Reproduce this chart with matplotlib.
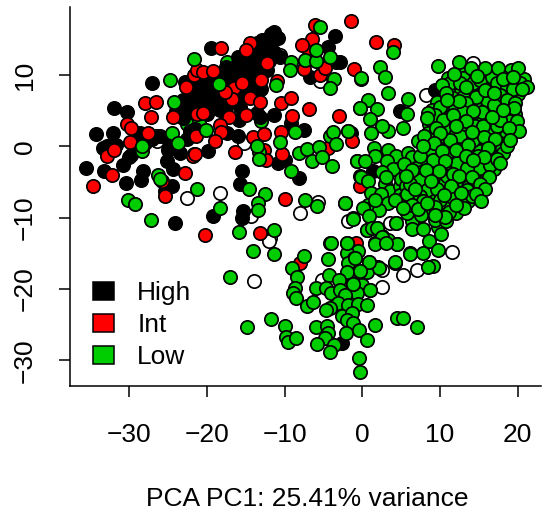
import matplotlib
matplotlib.use("Agg")
import matplotlib.pyplot as plt
from matplotlib.patches import Patch

plt.rcParams['font.family'] = ['Liberation Sans', 'DejaVu Sans']

xlabel_text = "PCA PC1: 25.41% variance"
group_labels = ["High", "Int", "Low"]
xticks = [-30, -20, -10, 0, 10, 20]
yticks = [-30, -20, -10, 0, 10]

unk = [(-26.5,1.5),(-26.4,0.7),(-22.6,-7.2),(-18.3,-6.5),(-8,-9.4),(-5.7,-7.8),(-14.3,-9.8),(-11.9,-12.9),
(-21.7,-1),(-15.2,0.45),(-5.4,9.2),(-10.6,12.8),(-1.8,-10.4),(8.2,7.2),(11.5,-14.75),(5.3,-18),(7,-17.3),
(2.6,-19.7),(2.5,-17.3),(3.6,-10.8),(14.3,11.7),(-13.9,-18.9),(-12,-13.2),(-5.2,-18.7)]

low_under = [(-17.45,11.9),(-16.2,11.35),(-15.9,12.6),(-22.5,3.1),(-21.05,3.4),(-17.6,6.15),(-13,3.5)]

high = [(-35.5,-2.97),(-34.2,1.7),(-33.2,-3.4),(-33.3,-0.25),(-32,5.45),(-30.3,4.8),(-32.1,1.95),(-31.7,0.2),
(-32.9,0),(-30.8,-2.6),(-30.4,-5.1),(-28.5,-4.7),(-28.2,-3.4),(-29.8,-1.2),(-28.6,1.85),(-29,0),(-27.1,8.9),
(-22.8,9.1),(-25,-0.5),(-25.1,-2.1),(-24.3,-3.1),(-24.5,-5.6),(-25.4,-6.3),(-23.5,-0.95),(-19.8,-0.7),
(-22.1,2.1),(-24.1,-10.8),(-19.2,-9.7),(-15.4,-9),(-15.5,-10.1),(-15.5,-3.4),(-15.7,-5.3),(-8.1,-4.4),
(-10.9,-2.3),(-9.9,-1.9),(-7.5,2.3),(-9.2,3.25),(-11.4,4.4),(-15.8,3.7),(-16,1.4),(-17.4,1.85),(-19.5,13.8),
(-11.4,16.1),(-10.8,15.2),(-12.3,14.7),(-13.2,13.5),(-3.5,15.5),(-4.4,14),(-3.4,11.8),(-6.7,9.8),(-10.6,12.6),
(-20.9,7.5),(-21.7,6.5),(-20.5,8.4),(-20,6.1),(-22.6,5.6),(-23.5,5.1),(-19.2,6.5),(-18.3,10.3),(-17.5,11.2),
(-16.6,9.8),(-14.9,11.7),(-14,11.2),(-13.2,12.1),(-12.3,10.7),(-14.4,12.6),(-13.6,8.4),(-18.3,5.1),(-13.6,4.7),
(-13.2,4.2),(-15.7,5.6),(-18.7,8.9),(-21.3,7.9),(-20,9.3),(-21.95,7),(-20.5,5.1),(-20.9,6.5),(-19.6,7.5),
(-17.9,7.9),(-15.3,10.3),(-16.2,11.2),(-12.7,13.1),(-11.9,14),(-13.6,14.5),(-16,9),(-14,9.5),(-13,11),(-18,9),
(-19.5,10),(-21,9),(-17,6.5),(-18,7),(-16,7),(-14.5,7.5),(-23,4),(-24,5),(-12,12),(-12.5,11.5),(-13,13),(-15,13),
(-16,12.5),(-17,10),(-19,8),(-22,8),(-20,4.5),(-19,5.5),(-22.5,1),(-21.5,2.5),(-26,1.5),(-27,1),(-28,0.5),(-30,-1.5),
(9.4,7.9),(4.85,5),(-1.5,1.85),(1.4,-3.5),(-2.65,-27.6),(-2.87,11.9),
(-14,10.2),(-15,10.8),(-15.9,10.3),(-13,10),(-12.8,12.6),(-14,13.5),(-13.9,12.2),(-11.3,13.2),(-12,15.2),(-12.9,15),
(-13,14),(-11.7,15.8),(-18.8,9.8),(-17.8,10.5),(-19.5,9),(-20.6,7),(-21.2,8.6),(-22,6),(-21,5.8),(-19.5,6.9),
(-20.3,7.9),(-18.7,6),(-17.5,5.5),(-16.9,7.5),(-15,7),(-15.5,8),(-14.6,9),(-13,8),(-23,6.5),(-24,4.5),(-22,5),(-25,1)]

intermediate = [(-34.6,-5.6),(-32.9,-1.4),(-32.25,-4),(-32,-0.5),(-30.3,3.15),(-29.7,2.55),(-29.9,0.6),(-27.9,6.05),
(-26.5,6.3),(-27.2,4.1),(-27.6,1.95),(-24.4,4.2),(-25.8,-4.9),(-25.4,-7),(-22.8,-3.7),(-21.8,-1.3),(-21.5,-1.05),
(-21.3,4.6),(-20.5,4.75),(-22.7,8.4),(-21.7,10),(-21.2,10.7),(-20.5,10.5),(-19.2,10.55),(-18.2,13.8),(-16.5,8.25),
(-16.7,6.7),(-17.2,4.1),(-18.3,3),(-18.2,2),(-19,0.7),(-21.4,1.4),(-16.4,-0.8),(-14.1,1.3),(-12.6,1.75),(-12.7,-0.5),
(-12.4,-1.9),(-10.3,-1.05),(-10.5,2),(-9,4.3),(-10.5,6.05),(-9.2,6.75),(-6.9,5.3),(-3,4.3),(-1.1,10.9),(-5.4,10),
(-4.8,11.05),(-7.45,10.85),(-6.9,13.4),(-6.4,15.1),(-7.75,14.2),(-6.1,17.1),(-1.5,17.6),(-11,9.2),(-13,9.3),
(-14.4,6.75),(-13.1,6.3),(-14.9,4.4),(-15.5,8.9),(-14.4,14.5),(-15,13.5),(-12.3,11.7),(-17.6,7.6),(-4.4,-0.25),
(-1.35,0.8),(-20.2,-12.4),(-13.2,-12.1),(-9.9,-7.4),(-0.3,-5.6),(1.76,14.7),(4.1,14.2),(18.9,7.5),(2.3,-8),
(-0.8,-13.6),(-8,-16.4),(-2.4,-23.2)]

low = [(-21.6,12.3),(-24.7,9.3),(-24.2,6.3),(-24.5,1.85),(-23.7,0.55),(-28.4,-0.6),(-28.3,0),
(-20.1,2.3),(-18.4,8.8),(-11.1,8.6),(-8.65,2),
(-10.6,0.65),(-13.3,-0.8),(-13.6,0),(-13.3,-1.8),(-8.1,-0.95),(-7.15,-0.35),(-6.4,-2),(-5.6,-0.1),(-5.2,-1.5),
(-3.85,-2.7),(-4.15,1.5),(-3.8,2),(-3.4,0.3),(-9.2,-3.4),(-0.7,-2.1),(-0.3,-4.2),(-1.8,2.2),(-0.3,5.45),(-0.1,9.5),
(-5.4,16.7),(-9.2,11.8),(-9.3,10.7),(-7.4,12.1),(-5.95,11.95),(-4.2,12.6),(-5.9,13.5),(-3.6,9.5),(-4.2,8.2),
(-26.3,-4.05),(-26,-4.6),(-21.3,-5.9),(-30.2,-7.45),(-29.2,-8.1),(-27.2,-10.3),(-18.3,-8.6),(-12.5,-6.6),(-14.6,-6),
(-13.45,-8),(-13.45,-8.9),(-7.4,-7.55),(-5.8,-8.4),(-2.2,-8),(-1.15,-10.1),(-15.9,-12.05),(-11.3,-11.7),(-4.1,-13.5),
(-14,-14.6),(-11.3,-15.1),(-17,-18.3),(-14.8,-25.3),(-11.7,-24.2),(-9.9,-25.2),(-9.8,-26.7),(-9.6,-27.4),(-8.5,-26.9),
(-7.5,-15.3),(-9,-17.1),(-8.35,-18.25),(-8.7,-19.9),(-8.9,-20.5),(-8.5,-21.3),(-7.15,-22.4),(-6.3,-21.75),(-5.9,-19.8),
(-4.45,-15.8),(-4,-13.5),(-2,-13.6),(-1.35,-14.6),(-0.5,-14.7),(-2,-15),(-1.05,-15.7),(-1.8,-16.4),(0.87,-16.15),
(2.07,-16.85),(-0.3,-17.55),(0.57,-17.55),(-2,-17.55),(-4.3,-18),(-2.95,-18.8),(-4.6,-19.9),(-4.05,-20.5),(-2.9,-20.1),
(-1.15,-19.3),(-0.07,-19.4),(-0.7,-20.5),(1,-20.1),(-2.2,-20.8),(-3.15,-22),(-1.8,-22.2),(-0.5,-22.1),(0.57,-22.3),
(-4.15,-22.7),(-4.6,-22.9),(-2.65,-23.85),(-1.35,-23.4),(-2,-24.3),(-1.15,-24.8),(-6,-25.3),(-4.5,-25.2),(-4.35,-26.2),
(-4.8,-26.9),(-5.8,-27.7),(-3.6,-27.8),(-4.1,-28.8),(-2.15,-26.2),(-0.4,-25.8),(0.6,-27.1),(1.65,-25),(-0.4,-29.7),
(-0.25,-31.7),(4.5,-24),(5.3,-24),(7,-25.35),(4.2,-16.3),(6.2,-15),(4.5,-13.7),(2.5,-12.6),(1.65,-13.6),(3.35,-13.1),
(0.57,-11.7),(1.85,-11.5),(4.4,-10.8),(6.4,-11.5),
(4,13.2),(2.3,11.2),(2.9,9.8),(-0.1,9.6),(3.35,7.55),(5.9,6.65),(0.8,6.5),(-0.3,5.45),(1.85,5.2),(1,3.9),(5.7,4.55),
(5.3,2.55),(3.35,2.1),(2.5,2.8),(1.1,1.95),(-1.8,2.2),(1.5,-0.25),(3.35,-0.5),(1.7,-1.4),(-0.7,-2.1),(0.35,-2.1),
(4.4,-1.4),(5.9,-0.9),(7.2,-1.9),(3.2,-2),(3.9,-3.1),(2.6,-3.6),(-0.2,-4.25),(0.8,-4.9),(2.9,-5.2),(3.6,-6.2),(4.8,-5.6),
(1.1,-6.5),(2.4,-6.7),(4.9,-6.8),(3.35,-7.9),(0.8,-8.2),(0.1,-8.7),(-2.2,-8),(2.1,-8.9),(0.9,-9.75),(-1.25,-10.2),
(4.4,-10.8),(0.55,-11.7),(1.2,-11.5),(1.9,-11.4),(2.5,-12.7),(1.65,-13.7),(4.5,-13.7),(3.1,-13.6),(6.35,-10.45),
(6.35,-11.6),(7.85,-11.6),(9.8,-11.35),(10.1,-12.3),(8.6,-13.25),(9.8,-14.5),(7.85,-15),(6.2,-15.1),(4.2,-16.25),
(2.1,-17),(0.9,-16.15),(-0.3,-17.5),(9.05,-16.7),(8.5,-16.85),(-1.15,-19.3),(1,-20.1),(-2,-13.6),(-0.95,-15.7),
(13,10.3),(15.2,10.4),(16.8,10.5),(18.7,10.2),(19.2,10.7),(12.9,9.6),(16,9.4),(17.8,9.9),(19.2,9),(11,9.6),(20.8,9.5),
(11.5,7.8),(12.7,7.6),(14,7.7),(15.2,8.2),(16.3,8.4),(18,7.9),(19,7.2),(20,7.3),(11.7,6.8),(13,7),(15.3,6.9),(17.2,6.4),
(18,5.7),(19,5.6),(9.6,6.2),(11.2,5.2),(12.6,5.4),(14,5.8),(15,5.8),(16,5.5),(17.5,5),(18.9,4.5),(19.6,4.6),(9,5.1),
(10.1,4.5),(11,3.9),(12.2,3.9),(14.4,3.9),(15.5,3.8),(16.2,3.3),(18.3,3.2),(18.9,3.6),(8.6,3.1),(9.9,3),(11,2.7),
(12.9,2.3),(14.5,2.9),(16.6,2),(17.9,1.9),(18.5,1.4),(7.2,0.7),(8.4,1.9),(9,1.2),(10.7,1.1),(12,1.9),(13.6,1.4),(15,1.9),
(16.4,0.7),(17.7,0.5),(8.2,-0.9),(9.6,-0.1),(10.9,-0.2),(12.8,0.2),(14.9,0.3),(15.2,-0.7),(17,-0.6),(18,-0.2),(6.4,-1.5),
(7.9,-2.2),(9.4,-2.5),(10.9,-1.2),(11.4,-2.4),(13,-1.5),(14.9,-1.4),(16.4,-1.4),(5.4,-2.4),(6.9,-3),(7.5,-3.6),(8.9,-3.1),
(10.6,-3.2),(12.2,-3.2),(14.4,-3),(16,-3.4),(17,-3.2),(5,-4.5),(6.7,-4.3),(9.4,-4.6),(10.6,-5.1),(12.2,-5),(13.1,-5),
(14.7,-4.9),(5.6,-5.5),(7.5,-5.6),(9.6,-6.8),(11.7,-6.2),(13.6,-5.7),(14.7,-5.7),(5.4,-7.2),(6.7,-6.9),(8.8,-7),(12.4,-7.2),
(13.6,-7.7),(6.9,-8.2),(8.5,-8.9),(10,-8.4),(10.8,-8),(12,-9.4),(5.8,-9.3),(7.5,-9.6),(9.3,-10.3),(10.8,-10.5),(3,-4.3),
(4.2,-7.5),(1.7,-7.5),
(11.3,8.9),(12.6,8.9),(14.3,8.9),(15.15,9.3),(16.65,9.8),(17.3,8.9),(18.6,8.4),(20.3,8.9),(19.45,8),(17.7,7.2),(16,6.5),
(14.7,7),(13.4,6.05),(11.9,5.6),(10,5.6),(9.4,4.4),(10.4,3.7),(13,4.9),(15.4,4.9),(16.9,5.8),(18.6,6.5),(15.6,2.8),
(17.3,2.8),(14.3,0.9),(12.6,1.4),(11.3,0.9),(8.7,-0.5),(7.4,-1.4),(9.15,-1.9),(12.15,-2.35),(15.15,-3.05),(16.45,-2.6),
(18.15,-0.95),(18.6,0),(10.85,-4.2),(11.7,-3.8),(13.45,-3.05),(7.4,-4.7),(8.3,-6.1),(9.6,-5.9),(11.3,-7),(13.45,-6.1),
(14.1,-7),(5.7,-6.6),(6.15,-5.2),(10,-7.5),(7.4,-7),(17.7,3.7),
(9.8,11.35),(12.5,11.9),(14,10.95),(15.8,10.95),(17.5,10.95),(20,10.95),(11.8,10.1),(14.8,9.9),(18.15,9.4),(19.45,9.8),
(21.15,8.4),(20.5,8),(10.2,8.6),(13.35,8.4),(15.8,7.9),(10.8,7.45),(12.4,6.4),(10.85,6.5),(16.9,7.5),(19.65,6.15),
(19.5,5.35),(18.15,5.1),(14.3,5),(8.5,4.65),(8.3,3.95),(11.7,4.4),(16.75,4.1),(13.3,3.6),(19.9,3.5),(20.2,2.2),(18.9,2.55),
(19,0.9),(9.5,2.65),(12.05,2.8),(10,1.85),(7.9,1.4),(15.7,1.3),(14.1,2),(17.1,1.05),(9.2,0.55),(13.65,0.2),(16.2,-0.25),
(7.85,0.05),(12,-0.5),(10.2,-0.7),(13.4,-1.3),(17.4,-1.75),(17.7,-2.35),(15.7,-1.5),(10.65,-2.1),(14.3,-1.9),(9.9,-3.5),
(8.2,-3.3),(6.35,-3.3),(5.6,-4.1),(12.5,-4.1),(14.1,-4.25),(16.35,-4.25),(8.9,-4.85),(6.8,-5.9),(11.4,-5.5),(15.15,-5.2),
(15.8,-5.95),(12.7,-6.5),(10.5,-6.8),(14.7,-6.6),(15.3,-7.6),(7.8,-7.65),(6.35,-8.2),(9.35,-8.45),(5.3,-8.6),(7.2,-8.8),
(8.3,-7.95),(11.2,-9.15),(13.1,-8.7),(12,-8.2),(10.65,-9.85),(9.35,-9.6)]

BLACK, RED, GREEN = "#000000", "#FF0000", "#00CD00"

fig = plt.figure(figsize=(5.43, 5.12), dpi=100)
ax = fig.add_axes([70/543, 1-386/512, (541-70)/543, (386-7)/512])
ax.set_xlim(-37.6, 23.0)
ax.set_ylim(-33.6, 19.56)

for pts, col in [(unk, "white"), (low_under, GREEN), (high, BLACK), (intermediate, RED), (low, GREEN)]:
    ax.scatter([p[0] for p in pts], [p[1] for p in pts], s=92, c=col,
               edgecolors="black", linewidths=1.25, clip_on=False)

for s in ["top", "right"]:
    ax.spines[s].set_visible(False)
for s in ["left", "bottom"]:
    ax.spines[s].set_linewidth(1.1)

ax.set_xticks(xticks)
ax.set_yticks(yticks)
ax.tick_params(length=8, width=1.1, labelsize=19)
ax.tick_params(axis="x", pad=19)
ax.tick_params(axis="y", pad=16)
for t in ax.get_yticklabels():
    t.set_rotation(90)
    t.set_va("center")

fig.text(307/543, 1-499/512, xlabel_text, ha="center", va="center", fontsize=19)

handles = [Patch(facecolor=c, edgecolor="black", linewidth=1.1) for c in (BLACK, RED, GREEN)]
ax.legend(handles, group_labels, loc="lower left", bbox_to_anchor=(93/543, 1-369/512),
          bbox_transform=fig.transFigure, frameon=False, fontsize=19, borderpad=0, borderaxespad=0,
          handlelength=0.78, handleheight=0.68, handletextpad=0.9, labelspacing=0.3)

fig.savefig("out.png", dpi=100)
